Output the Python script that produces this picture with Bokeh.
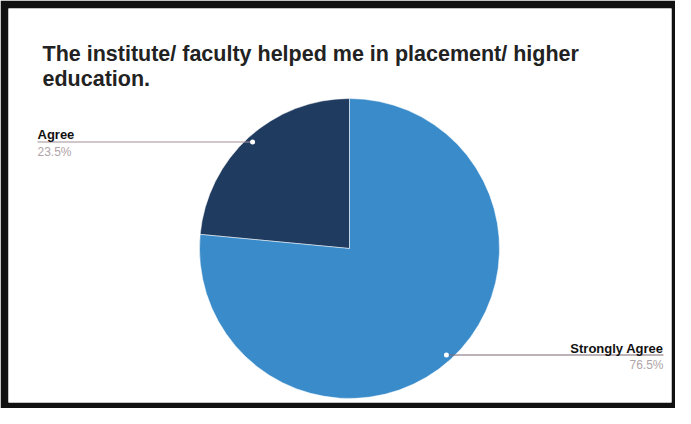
import math
from bokeh.plotting import figure
from bokeh.models import Range1d
from bokeh.core.properties import value
from bokeh.embed import file_html
from bokeh.resources import INLINE

# ---- data ----
title_lines = ["The institute/ faculty helped me in placement/ higher", "education."]
categories = ["Agree", "Strongly Agree"]
percentages = [23.5, 76.5]
pct_labels = ["23.5%", "76.5%"]
colors = ["#1f3b60", "#3a8bca"]

# ---- layout (picture pixel coordinates) ----
W, H = 675, 408
BL, BR, BT, BB = 8, 4, 8, 6
PX0, PY0 = BL, BT
pw, ph = W - BL - BR, H - BT - BB
cx, cy, R = 349, 248, 150
left_x, right_x = 37, 663
FONT = "Liberation Sans"

p = figure(width=W, height=H, output_backend="svg", toolbar_location=None,
           x_axis_type=None, y_axis_type=None,
           x_range=Range1d(PX0, PX0 + pw), y_range=Range1d(-(PY0 + ph), -PY0),
           min_border_left=BL, min_border_right=BR, min_border_top=BT, min_border_bottom=BB)
p.grid.visible = False
p.outline_line_color = None
p.border_fill_color = "#111111"
p.background_fill_color = "white"

# title
for i, line in enumerate(title_lines):
    p.text(x=[42], y=[-(53 + 25 * i)], text=[line], text_font=value(FONT),
           text_font_size="21.5px", text_font_style="bold", text_color="#222222",
           text_align="left", text_baseline="alphabetic")

# pie
starts, ends = [], []
a = math.pi / 2
for pct in percentages:
    da = pct / 100 * 2 * math.pi
    starts.append(a)
    ends.append(a + da)
    a += da

p.wedge(x=cx, y=-cy, radius=R, start_angle=starts, end_angle=ends,
        direction="anticlock", fill_color=colors, line_color="white",
        line_width=1, line_alpha=0.5)

# leader lines, dots and labels
line_colors = ["#a48e96", "#7c6670"]
for cat, lab, s, e, lc in zip(categories, pct_labels, starts, ends, line_colors):
    m = (s + e) / 2
    r = 0.96 * R
    dx = cx + r * math.cos(m)
    dy = -cy + r * math.sin(m)
    if math.cos(m) < 0:
        ex, align = left_x, "left"
    else:
        ex, align = right_x, "right"
    p.line(x=[dx, ex], y=[dy, dy], line_color=lc, line_width=1.2)
    p.scatter(x=[dx], y=[dy], size=5, fill_color="white", line_color=None)
    p.text(x=[ex], y=[dy + 7], text=[cat], text_font=value(FONT), text_font_size="13px",
           text_font_style="bold", text_color="#111111", text_align=align,
           text_baseline="alphabetic")
    p.text(x=[ex], y=[dy - 10], text=[lab], text_font=value(FONT), text_font_size="12px",
           text_color="#b0a4a8", text_align=align, text_baseline="alphabetic")

open("out.html", "w").write(file_html(p, INLINE))
